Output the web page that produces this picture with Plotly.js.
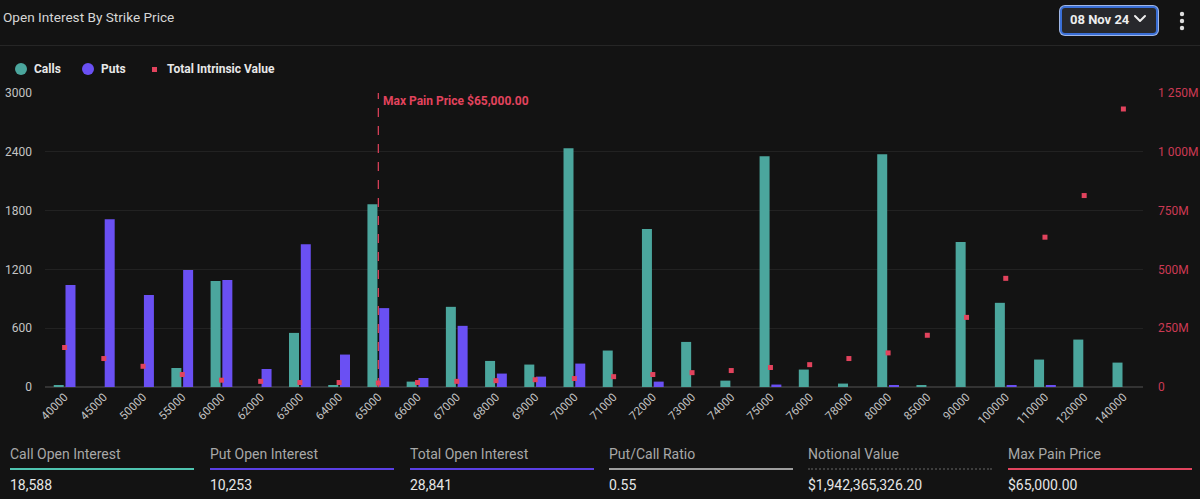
<!DOCTYPE html>
<html>
<head>
<meta charset="utf-8">
<script src="https://cdn.plot.ly/plotly-3.0.1.min.js"></script>
<style>
  html, body { margin:0; padding:0; background:#131313; width:1200px; height:499px; overflow:hidden; font-family: Roboto, "Open Sans", sans-serif; }
  #chart { position:absolute; left:0; top:0; width:1200px; height:499px; }
  .abs { position:absolute; white-space:nowrap; }
  #title { left:3px; top:9px; font-size:13.6px; color:#d6d6d6; }
  #sep { left:0; top:45px; width:1200px; height:1px; background:#262626; }
  .leg { position:absolute; top:62px; font-size:12px; font-weight:bold; color:#e8e8e8; line-height:14px; }
  .dot { position:absolute; width:12px; height:12px; border-radius:50%; }
  #dd { left:1060px; top:6px; width:94px; height:25px; border:2px solid #3a6fd6; border-radius:5px; background:#27282c; box-shadow:0 0 0 1px #9fb6e6; }
  #ddtext { left:1070px; top:12px; font-size:13px; font-weight:bold; color:#eeeeee; }
  .stat-label { position:absolute; top:446px; font-size:14px; color:#a8a8a8; }
  .stat-line { position:absolute; top:468px; width:184px; height:2px; }
  .stat-val { position:absolute; top:477px; font-size:14px; color:#e6e6e6; }
</style>
</head>
<body>
<div id="chart"></div>
<div id="title" class="abs">Open Interest By Strike Price</div>
<div id="sep" class="abs"></div>
<div id="legend"></div>
<div id="dd" class="abs"></div>
<div id="ddtext" class="abs">08 Nov 24</div>
<svg class="abs" style="left:1133px;top:14px" width="14" height="10"><polyline points="2,2 7,7 12,2" fill="none" stroke="#eeeeee" stroke-width="2" stroke-linecap="round" stroke-linejoin="round"/></svg>
<svg class="abs" style="left:1178px;top:11px" width="8" height="20"><circle cx="4" cy="3" r="2.2" fill="#dddddd"/><circle cx="4" cy="10" r="2.2" fill="#dddddd"/><circle cx="4" cy="17" r="2.2" fill="#dddddd"/></svg>
<div id="stats"></div>
<script>
// ---- data ----
const strikes = ['40000','45000','50000','55000','60000','62000','63000','64000','65000','66000','67000','68000','69000','70000','71000','72000','73000','74000','75000','76000','78000','80000','85000','90000','100000','110000','120000','140000'];
const callsOI = [15,0,0,194,1081,0,552,15,1865,55,818,266,229,2437,372,1612,460,65,2355,178,35,2375,12,1479,859,280,484,249];
const putsOI  = [1040,1711,940,1193,1091,184,1456,331,805,92,624,137,106,239,0,55,0,0,25,0,0,15,0,0,15,15,0,0];
const intrinsicValue = [168e6,121e6,88e6,53e6,29e6,24e6,19e6,19e6,17e6,19e6,24e6,27e6,31e6,36e6,44e6,53e6,61e6,70e6,83e6,95e6,121e6,145e6,220e6,296e6,462e6,637e6,814e6,1182e6];
const leftTicks = [0,600,1200,1800,2400,3000];
const rightTicks = [0,250e6,500e6,750e6,1000e6,1250e6];
const rightTickText = ['0','250M','500M','750M','1 000M','1 250M'];
const maxPainStrike = '65000';
const maxPainLabel = 'Max Pain Price $65,000.00';
const legendItems = ['Calls','Puts','Total Intrinsic Value'];
const statLabels = ['Call Open Interest','Put Open Interest','Total Open Interest','Put/Call Ratio','Notional Value','Max Pain Price'];
const statValues = ['18,588','10,253','28,841','0.55','$1,942,365,326.20','$65,000.00'];

// ---- styles ----
const callColor = '#4ba69d', putColor = '#6a50f3', ivColor = '#e2435d';
const statColors = ['#4fc4b0','#5a3fe4','#5a3fe4','#9e9e9e',null,'#e2455f'];

const traces = [
  {type:'bar', name:'Calls', x:strikes, y:callsOI, marker:{color:callColor, line:{width:0}}, showlegend:false, hoverinfo:'x+y'},
  {type:'bar', name:'Puts', x:strikes, y:putsOI, marker:{color:putColor, line:{width:0}}, showlegend:false, hoverinfo:'x+y'},
  {type:'scatter', mode:'markers', name:'Total Intrinsic Value', x:strikes, y:intrinsicValue, yaxis:'y2', marker:{symbol:'square', size:5, color:ivColor}, showlegend:false}
];

const mpIdx = strikes.indexOf(maxPainStrike);
const layout = {
  width:1200, height:499,
  paper_bgcolor:'rgba(0,0,0,0)', plot_bgcolor:'rgba(0,0,0,0)',
  margin:{l:45, r:57, t:93, b:112, pad:0},
  barmode:'group', bargap:0.4, bargroupgap:0.15,
  font:{family:'Roboto, sans-serif', color:'#bdbdbd', size:11},
  xaxis:{type:'category', range:[-0.5, strikes.length-0.5], tickangle:-45, tickfont:{size:11.5, color:'#c2c2c2'}, showgrid:false, zeroline:false, showline:false, ticks:'', automargin:false, fixedrange:true},
  yaxis:{range:[0,3000], tickvals:leftTicks, tickfont:{size:12, color:'#c4c4c4'}, gridcolor:'#222222', gridwidth:1, zeroline:true, zerolinecolor:'#333333', zerolinewidth:1.5, showline:false, ticklabelstandoff:12, automargin:false, fixedrange:true},
  yaxis2:{overlaying:'y', side:'right', range:[0,1250e6], tickvals:rightTicks, ticktext:rightTickText, tickfont:{size:12, color:'#cc3a53'}, showgrid:false, zeroline:false, showline:false, ticklabelstandoff:14, automargin:false, fixedrange:true},
  shapes:[{type:'line', xref:'x', yref:'paper', x0:mpIdx, x1:mpIdx, y0:0, y1:1, line:{color:ivColor, width:1.2, dash:'dash'}}],
  annotations:[{xref:'x', yref:'paper', x:mpIdx, y:1, xanchor:'left', yanchor:'top', xshift:3, yshift:1, text:'<b>'+maxPainLabel+'</b>', showarrow:false, font:{size:12, color:ivColor}}],
  showlegend:false, hovermode:'closest'
};
Plotly.newPlot('chart', traces, layout, {displayModeBar:false, staticPlot:false});

// ---- legend (HTML) ----
const legDiv = document.getElementById('legend');
const legPos = [{sym:15, txt:34, kind:'dot', color:callColor},{sym:82, txt:101, kind:'dot', color:putColor},{sym:152, txt:167, kind:'sq', color:ivColor}];
legendItems.forEach((name,i)=>{
  const p = legPos[i];
  const s = document.createElement('div');
  if (p.kind==='dot') { s.className='dot'; s.style.left=p.sym+'px'; s.style.top='63px'; s.style.background=p.color; }
  else { s.style.position='absolute'; s.style.left=p.sym+'px'; s.style.top='67px'; s.style.width='5px'; s.style.height='5px'; s.style.background=p.color; }
  legDiv.appendChild(s);
  const t = document.createElement('div');
  t.className='leg'; t.style.left=p.txt+'px'; t.textContent=name;
  legDiv.appendChild(t);
});

// ---- stats ----
const statDiv = document.getElementById('stats');
const colX = [10,210,410,609,808,1008];
statLabels.forEach((lab,i)=>{
  const l = document.createElement('div'); l.className='stat-label'; l.style.left=colX[i]+'px'; l.textContent=lab; statDiv.appendChild(l);
  const ln = document.createElement('div'); ln.className='stat-line'; ln.style.left=colX[i]+'px';
  if (statColors[i]) ln.style.background=statColors[i]; else { ln.style.height='0'; ln.style.borderTop='2px dotted #3d3d3d'; }
  statDiv.appendChild(ln);
  const v = document.createElement('div'); v.className='stat-val'; v.style.left=colX[i]+'px'; v.textContent=statValues[i]; statDiv.appendChild(v);
});
</script>
</body>
</html>
